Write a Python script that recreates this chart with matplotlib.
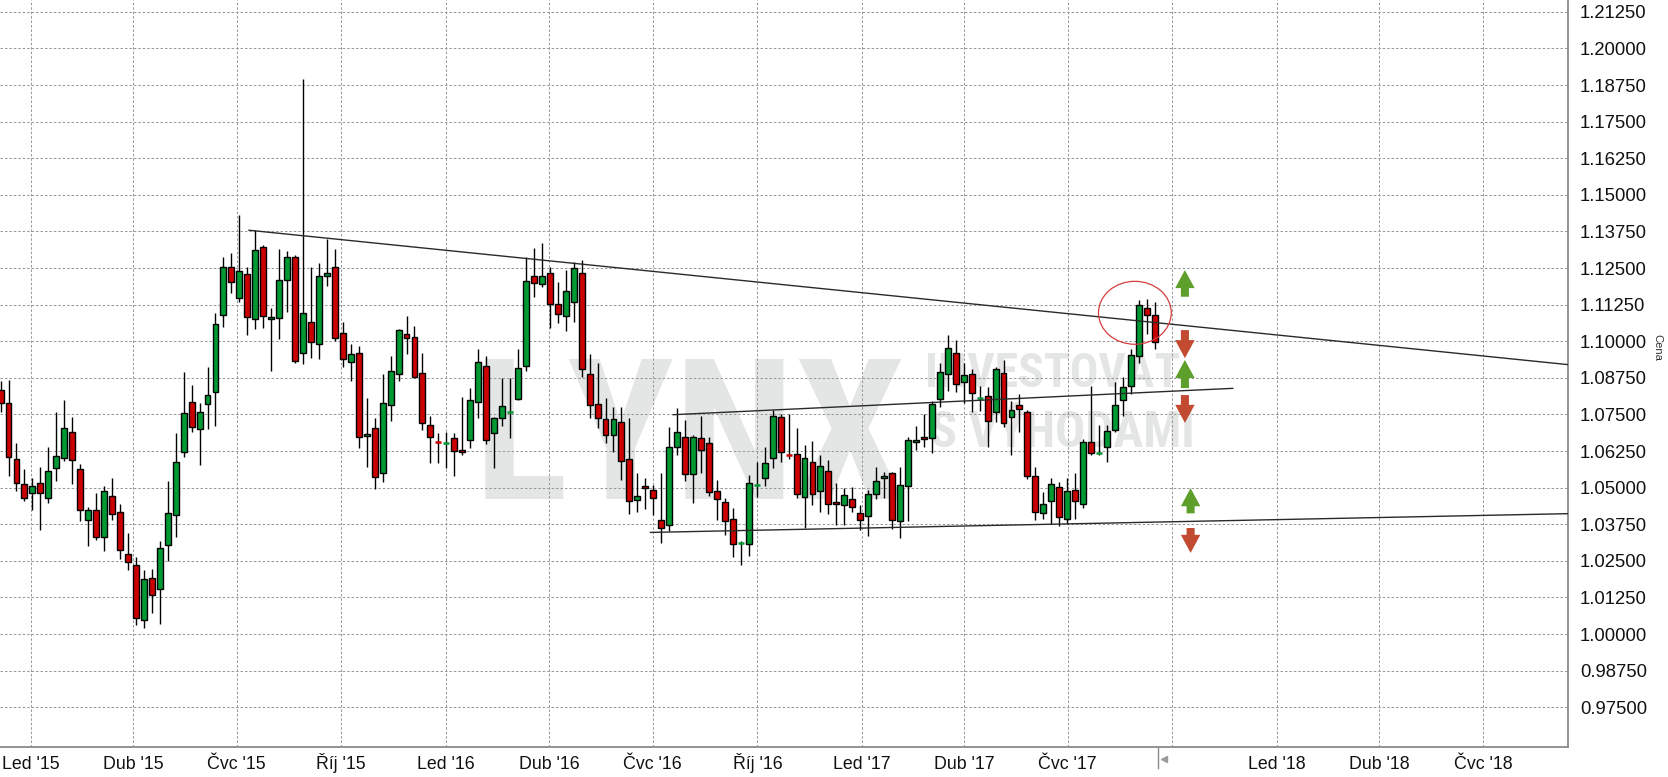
import numpy as np
import pandas as pd
import matplotlib
matplotlib.use("Agg")
import matplotlib.pyplot as plt
import matplotlib.dates as mdates
from matplotlib.patches import Rectangle, Ellipse
from matplotlib.lines import Line2D
from matplotlib import font_manager

# ---------------- data (weekly candles) ----------------
first_bar = "2014-12-05 12:00"
opens = [1.0834, 1.0790, 1.0599, 1.0513, 1.0481, 1.0517, 1.0463, 1.0568, 1.0600, 1.0691,
         1.0565, 1.0391, 1.0422, 1.0333, 1.0470, 1.0415, 1.0272, 1.0237, 1.0048, 1.0191,
         1.0153, 1.0305, 1.0407, 1.0623, 1.0793, 1.0699, 1.0787, 1.0825, 1.1090, 1.1253,
         1.1148, 1.1230, 1.1077, 1.1322, 1.1076, 1.1080, 1.1210, 1.1288, 1.0960, 1.1066,
         1.0991, 1.1223, 1.1253, 1.1029, 1.0930, 1.0960, 1.0677, 1.0705, 1.0551, 1.0783,
         1.0887, 1.1025, 1.1015, 1.0892, 1.0714, 1.0655, 1.0651, 1.0671, 1.0630, 1.0664,
         1.0793, 1.0916, 1.0688, 1.0739, 1.0757, 1.0804, 1.0916, 1.1223, 1.1194, 1.1233,
         1.1127, 1.1086, 1.1134, 1.1233, 1.0889, 1.0787, 1.0733, 1.0681, 1.0725, 1.0599,
         1.0457, 1.0504, 1.0492, 1.0391, 1.0372, 1.0639, 1.0674, 1.0545, 1.0671, 1.0654,
         1.0487, 1.0451, 1.0393, 1.0309, 1.0309, 1.0508, 1.0532, 1.0601, 1.0741, 1.0611,
         1.0614, 1.0467, 1.0586, 1.0488, 1.0556, 1.0451, 1.0442, 1.0461, 1.0413, 1.0403,
         1.0478, 1.0532, 1.0549, 1.0386, 1.0504, 1.0655, 1.0672, 1.0668, 1.0802, 1.0887,
         1.0961, 1.0859, 1.0888, 1.0806, 1.0813, 1.0757, 1.0893, 1.0740, 1.0781, 1.0757,
         1.0541, 1.0413, 1.0453, 1.0501, 1.0394, 1.0493, 1.0444, 1.0655, 1.0616, 1.0638,
         1.0698, 1.0800, 1.0847, 1.0949, 1.1114, 1.1090]
highs = [1.0864, 1.0869, 1.0651, 1.0563, 1.0534, 1.0572, 1.0640, 1.0759, 1.0798, 1.0740,
         1.0580, 1.0433, 1.0481, 1.0504, 1.0532, 1.0443, 1.0345, 1.0264, 1.0220, 1.0223,
         1.0316, 1.0523, 1.0688, 1.0896, 1.0852, 1.0788, 1.0913, 1.1098, 1.1288, 1.1302,
         1.1432, 1.1253, 1.1381, 1.1330, 1.1114, 1.1316, 1.1307, 1.1293, 1.1894, 1.1253,
         1.1268, 1.1350, 1.1316, 1.1064, 1.0989, 1.0985, 1.0805, 1.0737, 1.0887, 1.0950,
         1.1043, 1.1086, 1.1052, 1.0960, 1.0746, 1.0685, 1.0691, 1.0688, 1.0810, 1.0841,
         1.0975, 1.0948, 1.0742, 1.0876, 1.0876, 1.0975, 1.1288, 1.1318, 1.1336, 1.1253,
         1.1202, 1.1244, 1.1270, 1.1276, 1.0955, 1.0924, 1.0807, 1.0776, 1.0776, 1.0739,
         1.0550, 1.0532, 1.0510, 1.0550, 1.0706, 1.0773, 1.0731, 1.0680, 1.0746, 1.0674,
         1.0526, 1.0464, 1.0432, 1.0316, 1.0544, 1.0586, 1.0640, 1.0766, 1.0752, 1.0753,
         1.0703, 1.0647, 1.0659, 1.0612, 1.0595, 1.0517, 1.0498, 1.0502, 1.0440, 1.0493,
         1.0570, 1.0555, 1.0555, 1.0570, 1.0672, 1.0711, 1.0751, 1.0795, 1.0924, 1.1020,
         1.1004, 1.0924, 1.0904, 1.0847, 1.0842, 1.0913, 1.0935, 1.0796, 1.0819, 1.0765,
         1.0570, 1.0485, 1.0532, 1.0519, 1.0532, 1.0549, 1.0666, 1.0847, 1.0714, 1.0715,
         1.0859, 1.0878, 1.0972, 1.1140, 1.1144, 1.1133]
lows = [1.0759, 1.0538, 1.0487, 1.0453, 1.0424, 1.0354, 1.0447, 1.0521, 1.0591, 1.0513,
        1.0387, 1.0301, 1.0322, 1.0282, 1.0390, 1.0257, 1.0218, 1.0030, 1.0022, 1.0073,
        1.0033, 1.0250, 1.0331, 1.0606, 1.0691, 1.0578, 1.0700, 1.0710, 1.1049, 1.1165,
        1.1134, 1.1021, 1.1041, 1.1046, 1.0898, 1.1009, 1.1100, 1.0924, 1.0922, 1.0944,
        1.0939, 1.1188, 1.1000, 1.0913, 1.0864, 1.0634, 1.0572, 1.0496, 1.0518, 1.0727,
        1.0864, 1.0956, 1.0873, 1.0697, 1.0583, 1.0583, 1.0568, 1.0538, 1.0612, 1.0634,
        1.0739, 1.0649, 1.0568, 1.0710, 1.0671, 1.0799, 1.0898, 1.1150, 1.1185, 1.1046,
        1.1063, 1.1034, 1.1065, 1.0879, 1.0739, 1.0705, 1.0654, 1.0620, 1.0526, 1.0410,
        1.0416, 1.0427, 1.0408, 1.0310, 1.0352, 1.0612, 1.0521, 1.0447, 1.0551, 1.0473,
        1.0391, 1.0337, 1.0264, 1.0235, 1.0267, 1.0468, 1.0506, 1.0566, 1.0588, 1.0597,
        1.0463, 1.0361, 1.0442, 1.0417, 1.0411, 1.0374, 1.0372, 1.0417, 1.0355, 1.0334,
        1.0462, 1.0464, 1.0360, 1.0328, 1.0386, 1.0630, 1.0638, 1.0619, 1.0777, 1.0830,
        1.0825, 1.0789, 1.0759, 1.0762, 1.0640, 1.0723, 1.0708, 1.0610, 1.0691, 1.0528,
        1.0389, 1.0394, 1.0377, 1.0369, 1.0377, 1.0394, 1.0430, 1.0613, 1.0612, 1.0589,
        1.0691, 1.0745, 1.0819, 1.0927, 1.1023, 1.0975]
closes = [1.0788, 1.0606, 1.0517, 1.0464, 1.0504, 1.0480, 1.0558, 1.0609, 1.0705, 1.0595,
          1.0422, 1.0425, 1.0333, 1.0490, 1.0409, 1.0287, 1.0245, 1.0055, 1.0188, 1.0133,
          1.0295, 1.0413, 1.0586, 1.0756, 1.0708, 1.0759, 1.0816, 1.1059, 1.1253, 1.1202,
          1.1240, 1.1083, 1.1313, 1.1086, 1.1084, 1.1210, 1.1288, 1.0933, 1.1097, 1.0998,
          1.1223, 1.1233, 1.1011, 1.0940, 1.0955, 1.0674, 1.0684, 1.0535, 1.0790, 1.0899,
          1.1039, 1.1011, 1.0879, 1.0722, 1.0674, 1.0654, 1.0652, 1.0626, 1.0623, 1.0799,
          1.0930, 1.0664, 1.0737, 1.0780, 1.0758, 1.0909, 1.1206, 1.1199, 1.1223, 1.1127,
          1.1093, 1.1172, 1.1250, 1.0906, 1.0783, 1.0739, 1.0680, 1.0735, 1.0592, 1.0453,
          1.0471, 1.0499, 1.0464, 1.0361, 1.0640, 1.0691, 1.0548, 1.0674, 1.0630, 1.0485,
          1.0462, 1.0387, 1.0306, 1.0310, 1.0516, 1.0509, 1.0584, 1.0746, 1.0621, 1.0610,
          1.0477, 1.0600, 1.0478, 1.0573, 1.0444, 1.0444, 1.0474, 1.0434, 1.0389, 1.0478,
          1.0522, 1.0538, 1.0391, 1.0508, 1.0664, 1.0664, 1.0665, 1.0784, 1.0896, 1.0978,
          1.0853, 1.0885, 1.0822, 1.0807, 1.0726, 1.0906, 1.0719, 1.0764, 1.0768, 1.0539,
          1.0417, 1.0443, 1.0511, 1.0400, 1.0488, 1.0453, 1.0655, 1.0619, 1.0617, 1.0692,
          1.0782, 1.0842, 1.0954, 1.1124, 1.1091, 1.0998]
dates = pd.date_range(first_bar, periods=len(opens), freq="7D")

price_ticks = [0.975, 0.9875, 1.0, 1.0125, 1.025, 1.0375, 1.05, 1.0625, 1.075, 1.0875,
               1.1, 1.1125, 1.125, 1.1375, 1.15, 1.1625, 1.175, 1.1875, 1.2, 1.2125]
month_ticks = ["2015-01-01", "2015-04-01", "2015-07-01", "2015-10-01", "2016-01-01",
               "2016-04-01", "2016-07-01", "2016-10-01", "2017-01-01", "2017-04-01",
               "2017-07-01", "2017-10-01", "2018-01-01", "2018-04-01", "2018-07-01"]
month_labels = ["Led '15", "Dub '15", "Čvc '15", "Říj '15", "Led '16", "Dub '16",
                "Čvc '16", "Říj '16", "Led '17", "Dub '17", "Čvc '17", "",
                "Led '18", "Dub '18", "Čvc '18"]

# trend lines (date, price)
trend_upper = (["2015-07-12", "2018-09-14"], [1.1379, 1.0920])
trend_middle = (["2016-07-19", "2017-11-23"], [1.0749, 1.0839])
trend_lower = (["2016-06-29", "2018-09-14"], [1.0347, 1.0411])

# signal arrows: (date, base price, tip price, kind)
arrow_dates = ["2017-10-12", "2017-10-12", "2017-10-12", "2017-10-12", "2017-10-17", "2017-10-17"]
arrow_base = [1.1152, 1.1038, 1.0840, 1.0816, 1.0412, 1.0362]
arrow_tip = [1.1243, 1.0942, 1.0936, 1.0721, 1.0498, 1.0277]
arrow_kind = ["up", "down", "up", "down", "up", "down"]

circle_center = ("2017-08-29", 1.1097)
circle_size = (64.0, 0.0215)

x_range = ("2014-12-05 00:30", "2018-09-13 21:00")
y_range = (0.96131, 1.21653)

# ---------------- style ----------------
W, H = 1668, 777
GREEN = "#009933"
RED = "#cc0000"
plt.rcParams["font.family"] = ["Liberation Sans", "DejaVu Sans"]
plt.rcParams["lines.scale_dashes"] = False

fig = plt.figure(figsize=(W / 100, H / 100), dpi=100, facecolor="white")
ax = fig.add_axes([0, 29.7 / H, 1568 / W, 747.3 / H])
ax.set_facecolor("white")

xs = mdates.date2num(dates)
body_w = 5.2
for x, o, h, l, c in zip(xs, opens, highs, lows, closes):
    col = GREEN if c >= o else RED
    ax.vlines(x, l, h, color="black", lw=1.0, zorder=3)
    lo, hi = min(o, c), max(o, c)
    if hi - lo < 0.00035:
        ax.hlines((o + c) / 2, x - body_w / 2, x + body_w / 2, color=col, lw=1.8, zorder=5)
    else:
        ax.add_patch(Rectangle((x - body_w / 2, lo), body_w, hi - lo, facecolor=col,
                               edgecolor="black", lw=1.0, zorder=4))

for tl in (trend_upper, trend_middle, trend_lower):
    ax.plot(mdates.date2num(pd.to_datetime(tl[0])), tl[1], color="#2a2a2a", lw=1.0, zorder=6)

for d, b, t, k in zip(arrow_dates, arrow_base, arrow_tip, arrow_kind):
    xd = mdates.date2num(pd.Timestamp(d))
    col = "#5e9f2c" if k == "up" else "#c14a30"
    ax.annotate("", xy=(xd, t), xytext=(xd, b),
                arrowprops=dict(arrowstyle="simple,head_length=1.3,head_width=1.4,tail_width=0.58",
                                fc=col, ec="none", shrinkA=0, shrinkB=0, mutation_scale=10),
                annotation_clip=False, zorder=7)

ax.add_patch(Ellipse((mdates.date2num(pd.Timestamp(circle_center[0])), circle_center[1]),
                     circle_size[0], circle_size[1], fill=False, edgecolor="#d43d3d",
                     lw=0.9, zorder=8))

ax.set_xlim(mdates.date2num(pd.Timestamp(x_range[0])), mdates.date2num(pd.Timestamp(x_range[1])))
ax.set_ylim(*y_range)

ax.set_xticks(mdates.date2num(pd.to_datetime(month_ticks)))
ax.set_xticklabels(month_labels)
ax.set_yticks(price_ticks)
ax.set_yticklabels([f"{v:.5f}" for v in price_ticks])
ax.yaxis.tick_right()
ax.tick_params(axis="y", length=0, pad=8.5, labelsize=13.3, colors="#111111")
ax.tick_params(axis="x", length=0, pad=15.6, labelsize=12.8, colors="#111111")
for lbl in ax.get_xticklabels():
    lbl.set_verticalalignment("baseline")
ax.set_axisbelow(True)
ax.grid(True, color="#9a9a9a", lw=0.75, linestyle=(0, (1.8, 1.4)))
for s in ("top", "left"):
    ax.spines[s].set_visible(False)
for s in ("right", "bottom"):
    ax.spines[s].set_color("#8a8a8a")
    ax.spines[s].set_linewidth(1.3)

fig.text(1657 / W, 1 - 347 / H, "Cena", rotation=270, fontsize=8, ha="center", va="center",
         color="#333333")

# cursor marker under the axis
fig.add_artist(Line2D([1158.3 / W, 1158.3 / W], [1 - 747.5 / H, 1 - 768 / H],
                      transform=fig.transFigure, color="#8a8a8a", lw=1.0))
fig.add_artist(Line2D([1164 / W], [1 - 759 / H], transform=fig.transFigure, marker="<",
                      markersize=4, color="#9a9a9a", linestyle="none"))

# watermark
names = {f.name for f in font_manager.fontManager.ttflist}
wm_family = next((n for n in ["Roboto Condensed", "Liberation Sans Narrow", "Open Sans Condensed",
                              "DejaVu Sans Condensed"] if n in names), "DejaVu Sans")
fig.canvas.draw()


def fitted(s, x0, x1, base):
    t = ax.text(x0 / W, 1 - base / H, s, transform=fig.transFigure, ha="left", va="baseline",
                fontsize=100, fontweight="bold", family=wm_family, color="#e4e5e5", zorder=0.4)
    bb = t.get_window_extent(renderer=fig.canvas.get_renderer())
    t.set_fontsize(100 * (x1 - x0) / bb.width)
    return t


fitted("LYNX", 474, 906, 499)
fitted("INVESTOVAT", 925, 1180, 387)
fitted("S VÝHODAMI", 930, 1195, 447)

fig.savefig("out.png", dpi=100, facecolor="white")
